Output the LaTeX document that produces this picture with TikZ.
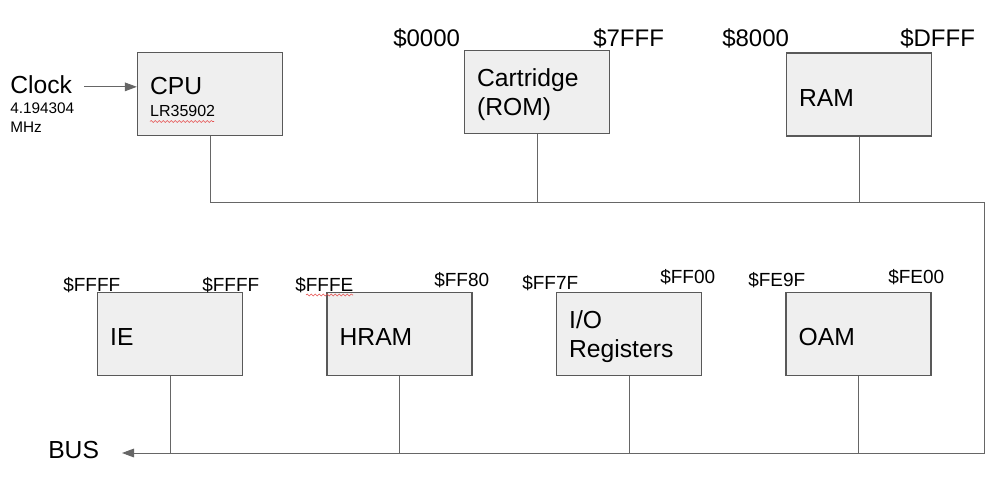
\documentclass[tikz,border=0pt]{standalone}
\usepackage{fontspec}
\setmainfont{Liberation Sans}
\usetikzlibrary{arrows.meta,decorations.pathmorphing}

\begin{document}
\begin{tikzpicture}[x=0.75pt,y=0.75pt,yscale=-1,
  unit/.style={draw={rgb,255:red,89;green,89;blue,89},line width=1pt,fill={rgb,255:red,239;green,239;blue,239},text width=89.75pt,inner xsep=9.5pt,inner ysep=0pt,minimum height=62.25pt,align=left,font=\fontsize{18.5}{21.75}\selectfont,execute at begin node={\rule{0pt}{17.5pt}}},
  wire/.style={draw={rgb,255:red,102;green,102;blue,102},line width=0.75pt},
  tip/.style={-{Triangle[length=9pt,width=6.5pt]}},
  addr/.style={anchor=base west,inner sep=0pt,font=\fontsize{14.25}{17}\selectfont},
  bigaddr/.style={anchor=base west,inner sep=0pt,font=\fontsize{18}{21}\selectfont},
  typo/.style={draw={rgb,255:red,230;green,80;blue,80},line width=0.4pt,decorate,decoration={snake,segment length=3pt,amplitude=0.8pt}}]
\useasboundingbox (0,0) rectangle (1008,500);

%Shape: Rectangle -- top row
\node[unit] (cpu) at (210,94) {CPU\\[-5.25pt]{\fontsize{12}{14}\selectfont LR35902}};
\node[unit] (cart) at (537,92) {Cartridge\\(ROM)};
\node[unit] (ram) at (859,94.5) {RAM};
%Shape: Rectangle -- bottom row
\node[unit] (ie) at (170,334) {IE};
\node[unit] (hram) at (399.5,334) {HRAM};
\node[unit] (io) at (629,334) {I/O\\Registers};
\node[unit] (oam) at (858.5,334) {OAM};

% Text Node
\node[anchor=base west,inner sep=0pt,font=\fontsize{18.5}{21.75}\selectfont] (clock) at (10,93) {Clock};
% Text Node
\node[anchor=north west,inner sep=0pt,align=left,font=\fontsize{11.5}{14.25}\selectfont] (freq) at (10,103) {4.194304\\MHz};
% Text Node
\node[anchor=base west,inner sep=0pt,font=\fontsize{18.5}{21.75}\selectfont] (bus) at (48,458) {BUS};

% Text Node -- address ranges
\node[bigaddr] (cartlo) at (393,46) {\$0000};
\node[bigaddr] (carthi) at (593,46) {\$7FFF};
\node[bigaddr] (ramlo) at (722,46) {\$8000};
\node[bigaddr] (ramhi) at (900,46) {\$DFFF};
\node[addr] (ielo) at (63,291) {\$FFFF};
\node[addr] (iehi) at (202,291) {\$FFFF};
\node[addr] (hramlo) at (295,291) {\$FFFE};
\node[addr] (hramhi) at (434,286) {\$FF80};
\node[addr] (iolo) at (522,289) {\$FF7F};
\node[addr] (iohi) at (660,283) {\$FF00};
\node[addr] (oamlo) at (748,286) {\$FE9F};
\node[addr] (oamhi) at (888,283) {\$FE00};

%Straight Lines -- bus
\coordinate (busne) at (984,202);
\coordinate (busse) at (984,453);
\coordinate (busend) at (122,453);
\draw[wire,tip] (cpu.south) |- (busne) -- (busse) -- (busend);
\foreach \n in {cart,ram} \draw[wire] (\n.south) -- (\n.south |- busne);
\foreach \n in {ie,hram,io,oam} \draw[wire] (\n.south) -- (\n.south |- busse);

%Straight Lines -- clock input
\draw[wire,tip] ([xshift=9pt,yshift=2pt]clock.east) -- ([yshift=2pt]clock.east -| cpu.west);

%Curve Lines -- spell-check marks
\draw[typo] (150,121.5) -- (214,121.5);
\draw[typo] (306,295) -- (353,295);

\end{tikzpicture}
\end{document}
